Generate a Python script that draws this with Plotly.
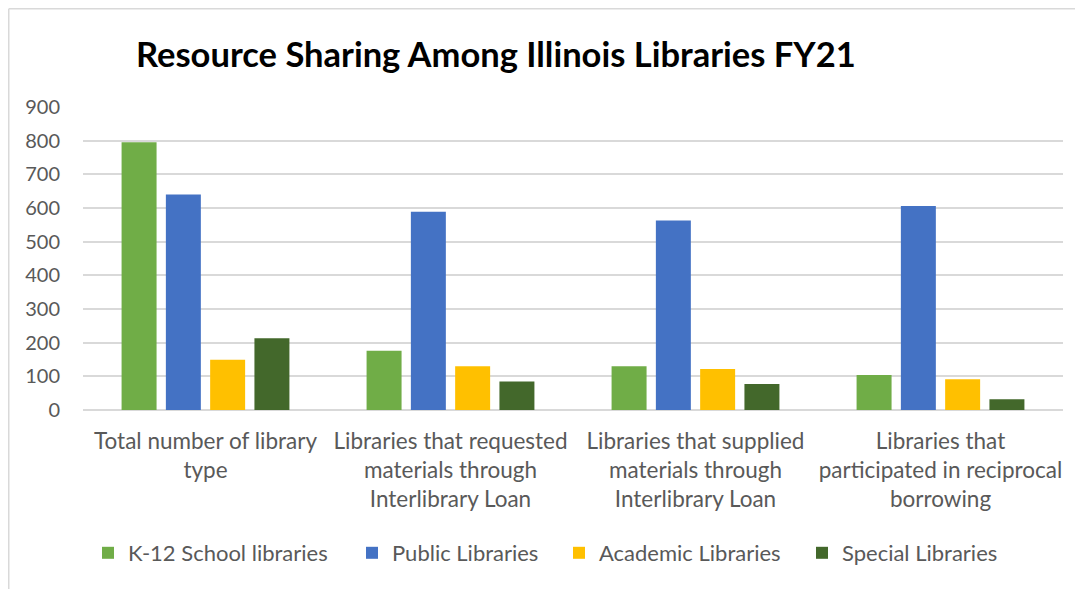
import plotly.graph_objects as go

categories = [
    "Total number of library<br>type",
    "Libraries that requested<br>materials through<br>Interlibrary Loan",
    "Libraries that supplied<br>materials through<br>Interlibrary Loan",
    "Libraries that<br>participated in reciprocal<br>borrowing",
]
series_names = ["K-12 School libraries", "Public Libraries", "Academic Libraries", "Special Libraries"]
k12 = [795, 176, 130, 104]
public = [640, 589, 563, 606]
academic = [149, 130, 122, 91]
special = [213, 85, 77, 32]
colors = ["#70AD47", "#4472C4", "#FFC000", "#43682B"]
y_ticks = [0, 100, 200, 300, 400, 500, 600, 700, 800, 900]

# page geometry (browser body has an 8px margin)
W, H = 1075, 581
L, R, T, B = 75, 20, 99, 179
PW = W - L - R
PH = H - T - B
OFF = 8

legend_text_x = [128, 392, 599, 842]  # page x where each legend label starts

fig = go.Figure()
legend_names = ["legend", "legend2", "legend3", "legend4"]
for name, vals, c, lg in zip(series_names, [k12, public, academic, special], colors, legend_names):
    fig.add_trace(go.Bar(x=categories, y=vals, name=name, legend=lg,
                         marker=dict(color=c, line=dict(width=0))))

FONT = "Lato"
legend_common = dict(orientation="h", yanchor="middle", xanchor="left",
                     font=dict(size=22, color="#595959"), itemwidth=30,
                     bgcolor="rgba(0,0,0,0)")
legend_layout = {}
for lg, tx in zip(legend_names, legend_text_x):
    xpx = tx - 40 - OFF - L
    legend_layout[lg] = dict(legend_common, x=xpx / PW, y=(410 - 553) / PH)

fig.update_layout(
    width=W, height=H,
    paper_bgcolor="white", plot_bgcolor="white",
    margin=dict(l=L, r=R, t=T, b=B, autoexpand=False),
    barmode="group", bargap=0.277, bargroupgap=0.21,
    font=dict(family=FONT, color="#595959", size=20),
    title=dict(text="<b>Resource Sharing Among Illinois Libraries FY21</b>",
               x=128 / W, xref="container", xanchor="left",
               y=1 - (55 - OFF) / H, yref="container", yanchor="middle",
               font=dict(family=FONT, size=34.5, color="black")),
    showlegend=True,
    **legend_layout,
)
fig.update_yaxes(range=[0, 900], tickvals=y_ticks, showgrid=True, gridcolor="#D9D9D9", gridwidth=1.5,
                 zeroline=True, zerolinecolor="#D9D9D9", zerolinewidth=1.5, showline=False,
                 ticks="", ticklabelstandoff=22, automargin=False, tickfont=dict(size=20, color="#595959"))
fig.update_xaxes(showgrid=False, showline=False, ticks="", tickfont=dict(size=22.5, color="#595959"),
                 ticklabelstandoff=15, automargin=False)

# chart frame: only left and top edges are visible in the reference
def px_x(p):
    return (p - L) / PW

def px_y(p):
    return (PH + T - p) / PH

fig.add_shape(type="line", xref="paper", yref="paper",
              x0=px_x(0.75), x1=px_x(0.75), y0=px_y(0.75), y1=px_y(H + 5),
              line=dict(color="#D9D9D9", width=1.5), layer="below")
fig.add_shape(type="line", xref="paper", yref="paper",
              x0=px_x(0.75), x1=px_x(W + 5), y0=px_y(0.75), y1=px_y(0.75),
              line=dict(color="#D9D9D9", width=1.5), layer="below")
fig.write_html("out.html")
